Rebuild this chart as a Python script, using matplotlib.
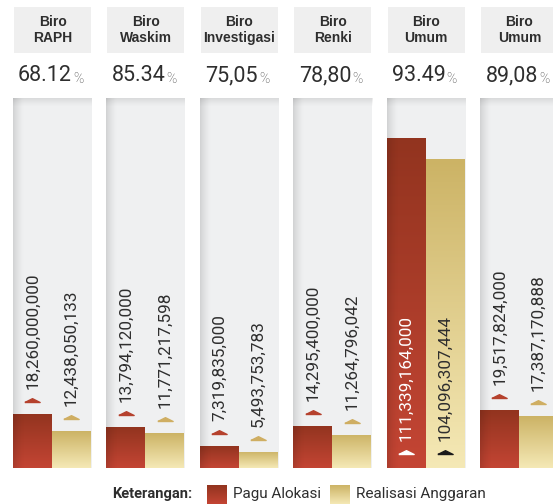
import numpy as np
import matplotlib
matplotlib.use("Agg")
import matplotlib.pyplot as plt
import matplotlib.transforms as mtransforms
from matplotlib.colors import LinearSegmentedColormap
from matplotlib.patches import Rectangle

# budget per bureau (rupiah)
biro = ["Biro\nRAPH", "Biro\nWaskim", "Biro\nInvestigasi", "Biro\nRenki", "Biro\nUmum", "Biro\nUmum"]
persen = ["68.12", "85.34", "75,05", "78,80", "93.49", "89,08"]
pagu = [18260000000, 13794120000, 7319835000, 14295400000, 111339164000, 19517824000]
realisasi = [12438050133, 11771217598, 5493753783, 11264796042, 104096307444, 17387170888]

W, H = 553, 504
NUMF = ["Roboto", "DejaVu Sans"]
SANS = ["Liberation Sans", "DejaVu Sans"]
TXT = "#2e2e2e"

RED = ("#92341f", "#c44534")
GOLD = ("#ccb365", "#f5e9b6")
PANEL_BG = "#eff0f1"
HEAD_BG = "#efefef"


def px(l, t, w, h):
    return [l / W, 1 - (t + h) / H, w / W, h / H]


def fill_gradient(ax, patch, cols, z=2):
    x0, y0 = patch.get_x(), patch.get_y()
    w, h = patch.get_width(), patch.get_height()
    cmap = LinearSegmentedColormap.from_list("g", list(cols))
    grad = np.linspace(0, 1, 256)[:, None]
    im = ax.imshow(grad, cmap=cmap, extent=[x0, x0 + w, y0, y0 + h],
                   aspect="auto", origin="upper", zorder=z)
    im.set_clip_path(patch)


def tri_marker():
    return [(-1, 0), (1, 0), (0, 0.5), (-1, 0)]


fig = plt.figure(figsize=(W / 100, H / 100), dpi=100)
fig.patch.set_facecolor("white")

ymax = 124.8e9
step = 93.4

for i in range(len(biro)):
    left = 13 + step * i

    # header box with bureau name
    hax = fig.add_axes(px(left + 1, 7, 77, 46))
    hax.set_facecolor(HEAD_BG)
    for s in hax.spines.values():
        s.set_visible(False)
    hax.set_xticks([])
    hax.set_yticks([])
    hax.text(0.5, 0.5, biro[i], ha="center", va="center", fontsize=10,
             fontweight="bold", family=SANS, color=TXT, linespacing=1.1,
             transform=hax.transAxes)

    # percentage of realisation
    num = fig.text((left + 32) / W, 1 - 75.5 / H, persen[i], ha="center",
                   va="center", fontsize=15.5, family=NUMF, color=TXT)
    plt.annotate("%", xy=(1, 0), xycoords=num, xytext=(1, 0),
                 textcoords="offset pixels", ha="left", va="bottom",
                 fontsize=10, fontweight="light", family=NUMF, color="#444444")

    ax = fig.add_axes(px(left, 98, 79, 370))
    ax.set_facecolor(PANEL_BG)
    for s in ax.spines.values():
        s.set_visible(False)
    ax.set_xticks([])
    ax.set_yticks([])

    vals = [pagu[i], realisasi[i]]
    bars = ax.bar([0, 1], vals, width=1.0, color=[RED[1], GOLD[1]], zorder=1)
    fill_gradient(ax, bars[0], RED)
    fill_gradient(ax, bars[1], GOLD)

    inside = pagu[i] > 0.5 * ymax
    for j, v in enumerate(vals):
        lbl = f"{v:,}"
        if inside:
            mk_off, tx_off = 14, 27
            mk_col = "white" if j == 0 else "#1a1a1a"
            tcol = "white" if j == 0 else TXT
            yv = 0
        else:
            mk_off, tx_off = 12, 25
            mk_col = "#b5412d" if j == 0 else "#cfae62"
            tcol = TXT
            yv = v
        mtr = mtransforms.offset_copy(ax.transData, fig=fig, y=mk_off, units="dots")
        ttr = mtransforms.offset_copy(ax.transData, fig=fig, y=tx_off, units="dots")
        ax.plot([j], [yv], marker=tri_marker(), markersize=11, color=mk_col,
                linestyle="none", transform=mtr, zorder=4, clip_on=False)
        ax.text(j, yv, lbl, rotation=90, ha="center", va="bottom", fontsize=12.3,
                family=NUMF, color=tcol, transform=ttr, zorder=4)

    # soft shading along the left and top edges of the panel
    sh = np.zeros((1, 30, 4))
    sh[..., 3] = np.linspace(0.25, 0, 30) ** 1.5
    ax.imshow(sh, extent=[0, 0.14, 0, 1], transform=ax.transAxes,
              aspect="auto", zorder=5, interpolation="bilinear")
    st = np.zeros((30, 1, 4))
    st[..., 3] = (np.linspace(0.18, 0, 30) ** 1.3)[:, None]
    ax.imshow(st, extent=[0, 1, 0.975, 1], transform=ax.transAxes,
              aspect="auto", zorder=5, interpolation="bilinear")

    ax.set_xlim(-0.5, 1.53)
    ax.set_ylim(0, ymax)

# legend row
fig.text(112 / W, 1 - 494 / H, "Keterangan:", ha="left", va="center",
         fontsize=10.5, fontweight="bold", family=NUMF, color=TXT)
for x0, cols, name in [(207, RED, "Pagu Alokasi"), (330, GOLD, "Realisasi Anggaran")]:
    lax = fig.add_axes(px(x0, 485, 20, 19))
    lax.set_axis_off()
    sq = Rectangle((0, 0), 1, 1, facecolor=cols[1])
    lax.add_patch(sq)
    fill_gradient(lax, sq, cols)
    lax.set_xlim(0, 1)
    lax.set_ylim(0, 1)
    fig.text((x0 + 26) / W, 1 - 494 / H, name, ha="left", va="center",
             fontsize=11, family=NUMF, color=TXT)

fig.savefig("out.png", dpi=100)
